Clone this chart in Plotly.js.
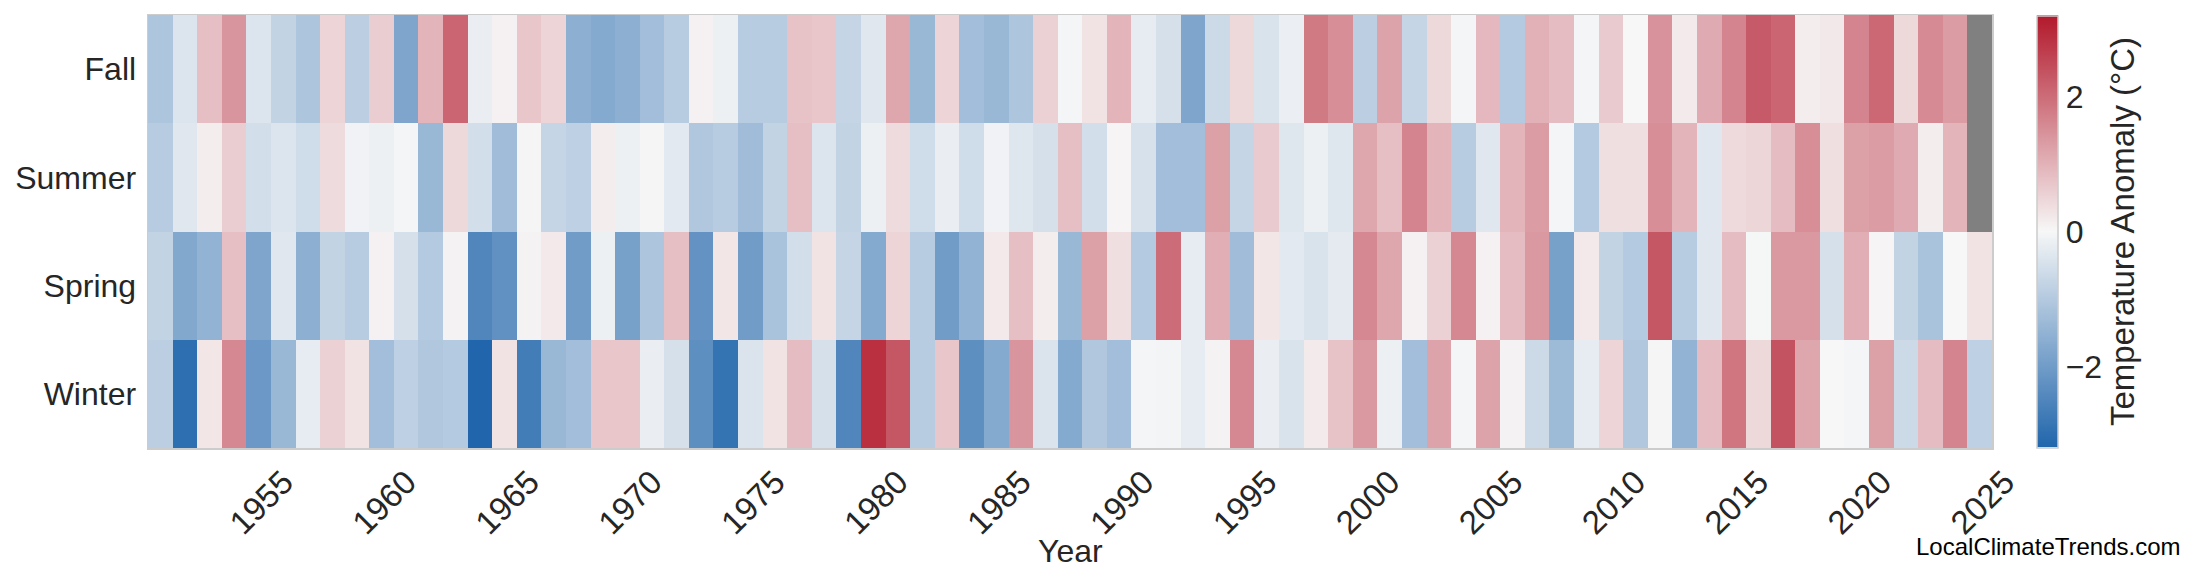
<!DOCTYPE html>
<html>
<head>
<meta charset="utf-8">
<script src="https://cdn.plot.ly/plotly-3.0.1.min.js"></script>
<style>
  html, body { margin: 0; padding: 0; background: #ffffff; }
  #chart { width: 2200px; height: 585px; }
</style>
</head>
<body>
<div id="chart"></div>
<script>
const years = [1951,1952,1953,1954,1955,1956,1957,1958,1959,1960,
  1961,1962,1963,1964,1965,1966,1967,1968,1969,1970,
  1971,1972,1973,1974,1975,1976,1977,1978,1979,1980,
  1981,1982,1983,1984,1985,1986,1987,1988,1989,1990,
  1991,1992,1993,1994,1995,1996,1997,1998,1999,2000,
  2001,2002,2003,2004,2005,2006,2007,2008,2009,2010,
  2011,2012,2013,2014,2015,2016,2017,2018,2019,2020,
  2021,2022,2023,2024,2025];

const seasons = ["Winter", "Spring", "Summer", "Fall"];

const fall = [-1.1,-0.4,0.8,1.4,-0.4,-0.8,-1.1,0.5,-0.9,0.6,
  -1.8,0.95,2.1,-0.2,0.1,0.7,0.5,-1.6,-1.7,-1.6,
  -1.25,-0.95,0.1,-0.15,-0.95,-0.95,0.75,0.7,-0.75,-0.35,
  1.15,-1.4,0.5,-1.25,-1.4,-1.1,0.55,-0.05,0.3,0.95,
  -0.25,-0.5,-1.8,-0.65,0.45,-0.45,-0.18,1.8,1.5,-0.9,
  1.2,-0.75,0.45,-0.05,0.9,-1.0,1.0,0.85,-0.05,0.65,
  0.0,1.45,0.18,1.1,1.65,2.25,2.1,0.15,0.22,1.65,
  2.05,0.45,1.55,1.3,null];

const summer = [-0.95,-0.35,0.15,0.6,-0.55,-0.4,-0.6,0.4,-0.1,-0.15,
  -0.05,-1.4,0.45,-0.55,-1.3,0.03,-0.75,-0.85,0.15,-0.15,
  0.03,-0.3,-1.05,-0.95,-1.3,-0.8,0.8,-0.4,-0.8,-0.15,
  0.4,-0.6,-0.2,-0.6,-0.1,-0.38,-0.5,0.8,-0.55,0.05,
  -0.48,-1.25,-1.25,1.25,-0.75,0.65,-0.38,-0.15,-0.38,1.15,
  0.8,1.65,0.95,-0.95,-0.35,0.95,1.3,-0.05,-1.0,0.35,
  0.35,1.5,0.95,-0.35,0.42,0.48,0.85,1.5,0.35,1.25,
  1.3,1.1,0.15,0.95,null];

const spring = [-0.8,-1.75,-1.5,0.8,-1.8,-0.35,-1.6,-0.8,-0.95,0.1,
  -0.5,-1.0,0.07,-2.5,-2.25,0.07,0.2,-2.0,-0.15,-1.9,
  -1.1,0.8,-2.2,0.25,-2.0,-1.15,-0.55,0.3,-0.75,-1.7,
  0.5,-0.95,-2.0,-1.5,0.2,0.8,0.15,-1.4,1.25,0.35,
  -1.0,2.0,-0.25,1.05,-1.3,0.25,-0.3,-0.45,-0.28,1.6,
  1.15,0.1,0.55,1.6,0.1,0.85,1.35,-1.9,0.2,-0.8,
  -1.0,2.3,-0.95,-0.35,0.85,-0.03,1.35,1.35,-0.5,1.05,
  0.05,-0.8,-1.15,0.0,0.3];

const winter = [-0.9,-3.0,0.25,1.6,-2.1,-1.4,-0.25,0.55,0.3,-1.25,
  -0.85,-1.05,-1.0,-3.2,0.3,-2.7,-1.4,-1.25,0.7,0.7,
  -0.2,-0.5,-2.3,-2.9,-0.42,0.3,0.85,-0.5,-2.5,2.85,
  2.3,-0.95,0.7,-2.3,-1.7,1.4,-0.42,-1.7,-1.05,-1.25,
  -0.05,-0.07,-0.25,0.07,1.6,-0.2,-0.45,0.18,0.75,1.35,
  -0.15,-1.25,1.2,-0.05,1.2,0.07,-0.65,-1.35,-0.25,0.5,
  -1.05,0.03,-1.5,0.85,1.85,0.45,2.35,1.15,0.0,-0.05,
  1.25,-0.65,0.85,1.65,-0.85];

const tickYears = [1955,1960,1965,1970,1975,1980,1985,1990,1995,2000,2005,2010,2015,2020,2025];

const FONT = "Arial, 'Liberation Sans', Helvetica, sans-serif";
const TXT = "#262626";

const trace = {
  type: "heatmap",
  x: years,
  y: seasons,
  z: [winter, spring, summer, fall],
  zmin: -3.2,
  zmax: 3.2,
  colorscale: [[0, "#2166ac"], [0.5, "#f7f7f7"], [1, "#b2182b"]],
  hoverongaps: false,
  colorbar: {
    x: 1.0244,
    xanchor: "left",
    xref: "paper",
    y: 0.5,
    yanchor: "middle",
    len: 432,
    lenmode: "pixels",
    thickness: 21,
    thicknessmode: "pixels",
    xpad: 0,
    ypad: 0,
    outlinecolor: "#cccccc",
    outlinewidth: 1.5,
    tickvals: [-2, 0, 2],
    ticktext: ["\u22122", "0", "2"],
    ticks: "",
    tickfont: { family: FONT, size: 32, color: TXT },
    title: {
      text: "Temperature Anomaly (°C)",
      side: "right",
      font: { family: FONT, size: 33, color: TXT }
    }
  }
};

const layout = {
  width: 2200,
  height: 585,
  margin: { l: 148, r: 208, t: 15, b: 137, pad: 0 },
  paper_bgcolor: "#ffffff",
  plot_bgcolor: "#808080",
  font: { family: FONT, color: TXT },
  xaxis: {
    range: [1950.5, 2025.5],
    tickvals: tickYears,
    ticktext: tickYears.map(String),
    tickangle: -45,
    ticks: "",
    ticklabelshift: 25,
    tickfont: { family: FONT, size: 33, color: TXT },
    showgrid: false,
    zeroline: false,
    showline: true,
    mirror: true,
    linecolor: "#cccccc",
    linewidth: 1.5
  },
  yaxis: {
    type: "category",
    categoryorder: "array",
    categoryarray: seasons,
    ticks: "",
    ticklabelstandoff: 4,
    tickfont: { family: FONT, size: 32, color: TXT },
    showgrid: false,
    zeroline: false,
    showline: true,
    mirror: true,
    linecolor: "#cccccc",
    linewidth: 1.5
  },
  annotations: [{
    text: "Year",
    xref: "paper", yref: "paper",
    x: 0.5, y: -0.238,
    xanchor: "center", yanchor: "middle",
    showarrow: false,
    font: { family: FONT, size: 32, color: TXT }
  }, {
    text: "LocalClimateTrends.com",
    xref: "paper", yref: "paper",
    x: 1.1036, y: -0.2286,
    xanchor: "right", yanchor: "middle",
    showarrow: false,
    font: { family: FONT, size: 24, color: "#000000" }
  }]
};

Plotly.newPlot("chart", [trace], layout, { displayModeBar: false, staticPlot: true });
</script>
</body>
</html>
